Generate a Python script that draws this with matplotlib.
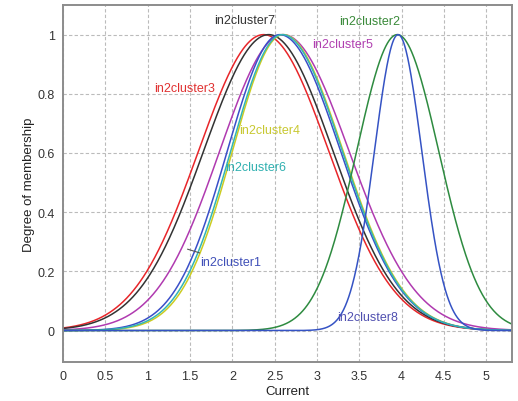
import numpy as np
import matplotlib
matplotlib.use('Agg')
import matplotlib.pyplot as plt

plt.rcParams['font.family'] = ['Liberation Sans', 'DejaVu Sans']

# membership functions (two-sided gaussians)
names = ['in2cluster3', 'in2cluster7', 'in2cluster5', 'in2cluster4',
         'in2cluster1', 'in2cluster6', 'in2cluster2', 'in2cluster8']
centers = [2.37, 2.43, 2.60, 2.60, 2.56, 2.59, 3.95, 3.96]
sigma_left = [0.77, 0.77, 0.75, 0.60, 0.62, 0.61, 0.48, 0.28]
sigma_right = [0.77, 0.76, 0.78, 0.71, 0.72, 0.71, 0.49, 0.28]
line_colors = ['#e8262a', '#333333', '#b03ab0', '#cccc22',
               '#3a4fc8', '#33b5b5', '#2e8b40', '#3553c4']

# label positions (data coords)
label_x = [1.44, 2.15, 3.30, 2.44, 1.62, 2.27, 3.62, 3.60]
label_y = [0.82, 1.05, 0.967, 0.677, 0.23, 0.552, 1.045, 0.045]
label_colors = ['#e03030', '#333333', '#b040b0', '#c8c830',
                '#4050b8', '#30b0b0', '#3a8a3a', '#5050b0']

x = np.linspace(0, 5.31, 800)

fig = plt.figure(figsize=(5.18, 4.02), dpi=100)
ax = fig.add_axes([0.122, 0.098, 0.867, 0.887])

for c, sl, sr, col in zip(centers, sigma_left, sigma_right, line_colors):
    s = np.where(x < c, sl, sr)
    y = np.exp(-(x - c) ** 2 / (2 * s ** 2))
    ax.plot(x, y, color=col, lw=1.1)

for name, lx, ly, lc in zip(names, label_x, label_y, label_colors):
    if name == 'in2cluster1':
        ax.annotate(name, xy=(1.47, 0.275), xytext=(lx, ly), ha='left', va='center',
                    color=lc, fontsize=9,
                    arrowprops=dict(arrowstyle='-', color='#555555', lw=0.8,
                                    shrinkA=2, shrinkB=0))
    else:
        ax.text(lx, ly, name, ha='center', va='center', color=lc, fontsize=9)

ax.set_xlim(0, 5.31)
ax.set_ylim(-0.105, 1.1)
ax.set_xticks(np.arange(0, 5.01, 0.5))
ax.set_xticklabels(['0', '0.5', '1', '1.5', '2', '2.5', '3', '3.5', '4', '4.5', '5'])
ax.set_yticks([0, 0.2, 0.4, 0.6, 0.8, 1])
ax.set_yticklabels(['0', '0.2', '0.4', '0.6', '0.8', '1'])
ax.tick_params(length=0, labelsize=9, colors='#333333', pad=6)
ax.grid(True, color='#bbbbbb', ls=(0, (3, 2)), lw=0.8)
for sp in ax.spines.values():
    sp.set_color('#8c8c8c')
    sp.set_linewidth(1.4)

ax.set_xlabel('Current', fontsize=9.5, color='#222222', labelpad=2)
ax.set_ylabel('Degree of membership', fontsize=9.5, color='#222222', labelpad=2)

fig.savefig('out.png', dpi=100)
